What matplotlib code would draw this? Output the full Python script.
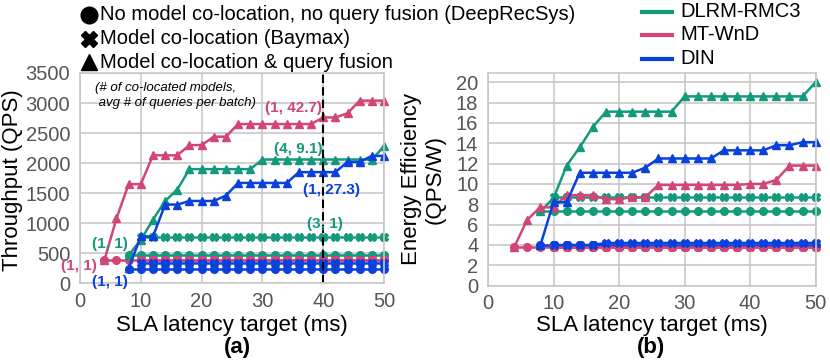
import matplotlib
matplotlib.use("Agg")
from matplotlib import pyplot as plt
from matplotlib.lines import Line2D

plt.rcParams['font.family'] = ['Liberation Sans', 'DejaVu Sans']

GREEN = "#13997b"
PINK = "#d24676"
BLUE = "#0a40dc"

# ---- throughput (QPS), left panel ----
x_tri_dlrm = [8, 10, 12, 14, 16, 18, 20, 22, 24, 26, 28, 30, 32, 34, 36, 38, 40, 42, 44, 46, 48, 50]
qps_tri_dlrm = [470, 720, 1060, 1370, 1560, 1900, 1900, 1900, 1900, 1900, 1900, 2060, 2060, 2060,
                2060, 2060, 2060, 2060, 2060, 2060, 2060, 2280]
x_tri_wnd = [4, 6, 8, 10, 12, 14, 16, 18, 20, 22, 24, 26, 28, 30, 32, 34, 36, 38, 40, 42, 44, 46, 48, 50]
qps_tri_wnd = [380, 1080, 1650, 1650, 2130, 2130, 2130, 2300, 2300, 2440, 2440, 2650, 2650, 2650,
               2650, 2650, 2650, 2650, 2760, 2760, 2830, 3040, 3040, 3040]
x_tri_din = [8, 10, 12, 14, 16, 18, 20, 22, 24, 26, 28, 30, 32, 34, 36, 38, 40, 42, 44, 46, 48, 50]
qps_tri_din = [250, 780, 780, 1310, 1310, 1370, 1370, 1370, 1460, 1670, 1670, 1670, 1670, 1670,
               1850, 1850, 1850, 1850, 2020, 2020, 2120, 2120]

x_from8 = list(range(8, 51, 2))
x_from4 = list(range(4, 51, 2))
x_from10 = list(range(10, 51, 2))
qps_circ_dlrm = [475] * len(x_from8)
qps_circ_wnd = [380] * len(x_from4)
qps_circ_din = [245] * len(x_from8)
qps_bay_dlrm = [765] * len(x_from10)
qps_bay_wnd = [395] * len(x_from10)
qps_bay_din = [330] * len(x_from10)

# ---- energy efficiency (QPS/W), right panel ----
ee_tri_dlrm = [7.3, 8.6, 11.8, 13.6, 15.6, 17.1, 17.1, 17.1, 17.1, 17.1, 17.1, 18.6, 18.6, 18.6,
               18.6, 18.6, 18.6, 18.6, 18.6, 18.6, 18.6, 20.0]
ee_tri_wnd = [3.8, 6.5, 7.7, 7.7, 8.9, 8.9, 8.9, 8.5, 8.5, 8.7, 8.7, 9.9, 9.9, 9.9,
              9.9, 9.9, 9.9, 9.9, 10.0, 10.0, 10.4, 11.8, 11.8, 11.8]
ee_tri_din = [4.0, 8.2, 8.2, 11.1, 11.1, 11.1, 11.1, 11.1, 11.6, 12.5, 12.5, 12.5, 12.5, 12.5,
              13.3, 13.3, 13.3, 13.3, 13.8, 13.8, 14.1, 14.1]
ee_circ_dlrm = [7.3] * len(x_from8)
ee_circ_wnd = [3.8] * len(x_from4)
ee_circ_din = [4.0] * len(x_from8)
ee_bay_dlrm = [8.7] * len(x_from10)
ee_bay_wnd = [3.8] * len(x_from10)
ee_bay_din = [4.0, 4.0, 4.0, 4.0, 4.2, 4.2, 4.2, 4.2, 4.2, 4.2, 4.2, 4.2, 4.2, 4.2, 4.2, 4.2,
              4.2, 4.2, 4.2, 4.2, 4.2]

fig = plt.figure(figsize=(8.3, 3.6), dpi=100)
ax1 = fig.add_axes([80 / 830, 1 - 283.3 / 360, 304 / 830, 210.3 / 360])
ax2 = fig.add_axes([488 / 830, 1 - 285.7 / 360, 327.7 / 830, 212.7 / 360])


def draw(ax, circ, bay, tri):
    kw = dict(lw=1.8, ms=5.5, clip_on=False)
    for xs, ys, c in circ:
        ax.plot(xs, ys, marker="o", color=c, **kw)
    for xs, ys, c in bay:
        ax.plot(xs, ys, marker="X", color=c, **kw)
    for xs, ys, c in tri:
        ax.plot(xs, ys, marker="^", color=c, **kw)


draw(ax1,
     [(x_from8, qps_circ_dlrm, GREEN), (x_from4, qps_circ_wnd, PINK), (x_from8, qps_circ_din, BLUE)],
     [(x_from10, qps_bay_dlrm, GREEN), (x_from10, qps_bay_wnd, PINK), (x_from10, qps_bay_din, BLUE)],
     [(x_tri_dlrm, qps_tri_dlrm, GREEN), (x_tri_wnd, qps_tri_wnd, PINK), (x_tri_din, qps_tri_din, BLUE)])
draw(ax2,
     [(x_from8, ee_circ_dlrm, GREEN), (x_from4, ee_circ_wnd, PINK), (x_from8, ee_circ_din, BLUE)],
     [(x_from10, ee_bay_dlrm, GREEN), (x_from10, ee_bay_wnd, PINK), (x_from10, ee_bay_din, BLUE)],
     [(x_tri_dlrm, ee_tri_dlrm, GREEN), (x_tri_wnd, ee_tri_wnd, PINK), (x_tri_din, ee_tri_din, BLUE)])

ax1.axvline(40, color="black", ls=(0, (4, 2)), lw=1.5)

for ax in (ax1, ax2):
    ax.set_xlim(0, 50)
    ax.set_xticks(range(0, 51, 10))
    ax.grid(True, color="#c8c8c8", lw=1.2)
    ax.set_axisbelow(True)
    for s in ax.spines.values():
        s.set_color("#c8c8c8")
        s.set_linewidth(1.2)
    ax.tick_params(length=0, labelsize=14.5, labelcolor="#555555")
    ax.tick_params(axis="x", pad=6)
    ax.tick_params(axis="y", pad=7)
    ax.set_xlabel("SLA latency target (ms)", fontsize=16, va="center")

ax1.xaxis.set_label_coords(0.5, (283.3 - 325) / 210.3)
ax2.xaxis.set_label_coords(0.5, (285.7 - 325) / 212.7)

ax1.set_ylim(0, 3500)
ax1.set_yticks(range(0, 3501, 500))
ax1.set_ylabel("Throughput (QPS)", fontsize=16, va="center")
ax1.yaxis.set_label_coords((12 - 80) / 304, 0.49)
ax2.set_ylim(0, 20.9)
ax2.set_yticks(range(0, 21, 2))
ax2.set_ylabel("Energy Efficiency\n(QPS/W)", fontsize=16, va="center", linespacing=1.15)
ax2.yaxis.set_label_coords((423 - 488) / 327.7, 0.5)

fig.text(237 / 830, 1 - 347 / 360, "(a)", ha="center", va="center", fontsize=16, fontweight="bold")
fig.text(651 / 830, 1 - 347 / 360, "(b)", ha="center", va="center", fontsize=16, fontweight="bold")

ax1.text(2.5, 3130, "(# of co-located models,\n avg # of queries per batch)", fontsize=9.5,
         style="italic", va="center", linespacing=1.3)
bold = dict(fontsize=11, fontweight="bold", ha="center", va="center")
ax1.text(35.1, 2920, "(1, 42.7)", color=PINK, **bold)
ax1.text(35.9, 2230, "(4, 9.1)", color=GREEN, **bold)
ax1.text(41.3, 1555, "(1, 27.3)", color=BLUE, **bold)
ax1.text(40.3, 990, "(3, 1)", color=GREEN, **bold)
ax1.text(4.9, 655, "(1, 1)", color=GREEN, **bold)
ax1.text(-0.2, 288, "(1, 1)", color=PINK, clip_on=False, **bold)
ax1.text(4.9, 22, "(1, 1)", color=BLUE, clip_on=False, **bold)

# marker legend, top left
mk_labels = ["No model co-location, no query fusion (DeepRecSys)", "Model co-location (Baymax)",
             "Model co-location & query fusion"]
mk_rows = [15, 38.5, 62]
for m, lab, yy in zip(["o", "X", "^"], mk_labels, mk_rows):
    fig.add_artist(Line2D([88.5 / 830], [1 - yy / 360], transform=fig.transFigure, ls="",
                          marker=m, color="black", ms=12 if m != "^" else 11))
    fig.text(100 / 830, 1 - yy / 360, lab, fontsize=14.5, va="center")

# line legend, top right
ln_labels = ["DLRM-RMC3", "MT-WnD", "DIN"]
ln_rows = [11.5, 35, 59]
for c, lab, yy in zip([GREEN, PINK, BLUE], ln_labels, ln_rows):
    fig.add_artist(Line2D([642 / 830, 672 / 830], [1 - yy / 360] * 2, transform=fig.transFigure,
                          color=c, lw=3))
    fig.text(680 / 830, 1 - yy / 360, lab, fontsize=14.5, va="center")

fig.savefig("out.png", dpi=100)
